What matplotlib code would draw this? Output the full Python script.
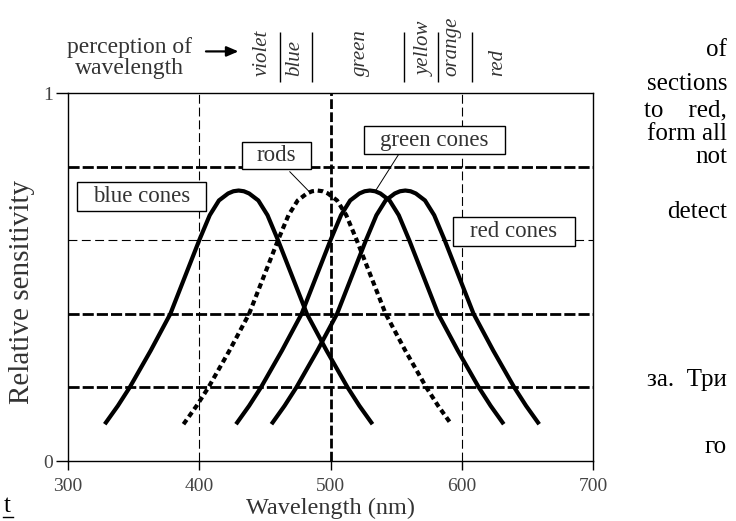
import matplotlib
matplotlib.use('Agg')
import matplotlib.pyplot as plt
from matplotlib.patches import Rectangle
from matplotlib.lines import Line2D

plt.rcParams['font.family'] = ['Liberation Serif', 'DejaVu Serif']

# ── data ──
blue_nm = [328, 338, 347, 363, 378, 389, 400, 408, 415, 422, 426, 430,
           434, 438, 445, 452, 460, 471, 482, 497, 513, 522, 532]
blue_s = [0.100, 0.150, 0.200, 0.300, 0.400, 0.500, 0.600, 0.668, 0.708, 0.727, 0.733, 0.735,
          0.733, 0.727, 0.708, 0.668, 0.600, 0.500, 0.400, 0.300, 0.200, 0.150, 0.100]

rods_nm = [388, 398, 407, 423, 438, 449, 460, 468, 475, 482, 486, 490,
           494, 498, 505, 512, 520, 531, 542, 557, 573, 582, 592]
rods_s = [0.100, 0.150, 0.200, 0.300, 0.400, 0.500, 0.600, 0.668, 0.708, 0.727, 0.733, 0.735,
          0.733, 0.727, 0.708, 0.668, 0.600, 0.500, 0.400, 0.300, 0.200, 0.150, 0.100]

green_nm = [428, 438, 447, 463, 478, 489, 500, 508, 515, 522, 526, 530,
            534, 538, 545, 552, 560, 571, 582, 597, 613, 622, 632]
green_s = [0.100, 0.150, 0.200, 0.300, 0.400, 0.500, 0.600, 0.668, 0.708, 0.727, 0.733, 0.735,
           0.733, 0.727, 0.708, 0.668, 0.600, 0.500, 0.400, 0.300, 0.200, 0.150, 0.100]

red_nm = [455, 465, 474, 490, 505, 516, 527, 535, 542, 549, 553, 557,
          561, 565, 572, 579, 587, 598, 609, 624, 640, 649, 659]
red_s = [0.100, 0.150, 0.200, 0.300, 0.400, 0.500, 0.600, 0.668, 0.708, 0.727, 0.733, 0.735,
         0.733, 0.727, 0.708, 0.668, 0.600, 0.500, 0.400, 0.300, 0.200, 0.150, 0.100]

x_ticks = [300, 400, 500, 600, 700]
grid_h_thick = [0.8, 0.4, 0.2]
grid_h_thin = [0.6]
grid_v_thick = [500]
grid_v_thin = [400, 600]

# perception strip above the plot
colour_words = ['violet', 'blue', 'green', 'yellow', 'orange', 'red']
colour_word_nm = [447.6, 473.0, 523.0, 572.0, 592.3, 627.6]
colour_bar_nm = [461.5, 485.7, 556.2, 582.1, 608.0]

# curve labels: text, box (x0, x1, y0, y1) in data units
labels = [
    ('blue cones', (306.9, 405.2, 0.679, 0.757)),
    ('rods', (432.6, 485.1, 0.793, 0.867)),
    ('green cones', (525.5, 632.9, 0.834, 0.910)),
    ('red cones', (593.3, 686.3, 0.584, 0.663)),
]
leaders = [((469.0, 0.786), (484.6, 0.729)),
           ((551.7, 0.832), (533.9, 0.732))]

# stray page text on the right (scan of a book page)
page_text = [('of', 50), ('sections', 84), ('to    red,', 110), ('form all', 134),
             ('not', 157), ('detect', 212), ('за.  Три', 380), ('го', 447)]

W, H = 736, 521
fig = plt.figure(figsize=(W / 100, H / 100), dpi=100)
ax = fig.add_axes([68 / W, 1 - 461 / H, 525 / W, 368 / H])
ax.set_xlim(300, 700)
ax.set_ylim(0, 1)

# grid-like reference lines
for y in grid_h_thick:
    ax.axhline(y, color='black', lw=2.0, ls=(0, (4, 1.1)), zorder=1)
for y in grid_h_thin:
    ax.axhline(y, color='black', lw=0.8, ls=(0, (8, 4)), zorder=1)
for x in grid_v_thick:
    ax.axvline(x, color='black', lw=2.0, ls=(0, (3.5, 1.2)), zorder=1)
for x in grid_v_thin:
    ax.axvline(x, color='black', lw=0.8, ls=(0, (8, 3.5)), zorder=1)

# sensitivity curves
for nm, s in [(blue_nm, blue_s), (green_nm, green_s), (red_nm, red_s)]:
    ax.plot(nm, s, color='black', lw=3.0, solid_capstyle='butt',
            solid_joinstyle='round', zorder=3)
ax.plot(rods_nm, rods_s, color='black', lw=3.0, ls=(0, (1.3, 0.9)), zorder=3)

# labels in boxes
for txt, (x0, x1, y0, y1) in labels:
    ax.add_patch(Rectangle((x0, y0), x1 - x0, y1 - y0, facecolor='white',
                           edgecolor='black', lw=1.0, zorder=4))
    ax.text((x0 + x1) / 2, (y0 + y1) / 2, txt, ha='center', va='center',
            fontsize=16.5, color='#333333', zorder=5)
for (x0, y0), (x1, y1) in leaders:
    ax.plot([x0, x1], [y0, y1], color='black', lw=0.7, zorder=4)

# axes styling
for sp in ax.spines.values():
    sp.set_linewidth(1.0)
ax.set_xticks(x_ticks)
ax.set_xticklabels([str(v) for v in x_ticks], color='#444444', fontsize=14)
ax.set_yticks([0, 1])
ax.set_yticklabels(['0', '1'], color='#444444', fontsize=14)
ax.tick_params(axis='x', length=6.5, width=1.0, pad=6)
ax.tick_params(axis='y', length=9, width=1.0, pad=2)
ax.set_xlabel('Wavelength (nm)', fontsize=17.5, color='#333333', labelpad=2)
ax.set_ylabel('Relative sensitivity', fontsize=21, color='#333333')
ax.yaxis.set_label_coords(-0.062, 0.459)

# perception of wavelength strip
ax.text(347, 1.124, 'perception of', ha='center', va='center', fontsize=17,
        color='#333333', clip_on=False)
ax.text(347, 1.067, 'wavelength', ha='center', va='center', fontsize=17,
        color='#333333', clip_on=False)
ax.annotate('', xy=(432, 1.113), xytext=(403, 1.113), annotation_clip=False,
            arrowprops=dict(arrowstyle='-|>,head_length=0.7,head_width=0.3',
                            lw=1.6, color='black'))
for w, x in zip(colour_words, colour_word_nm):
    ax.text(x, 1.046, w, rotation=90, ha='center', va='bottom', fontsize=15,
            style='italic', color='#333333', clip_on=False)
ax.vlines(colour_bar_nm, 1.031, 1.167, color='black', lw=1.0, clip_on=False)

for txt, ypx in page_text:
    fig.text(727 / W, 1 - ypx / H, txt, ha='right', va='center', fontsize=18,
             color='black')
fig.text(4 / W, 1 - 506 / H, 't', ha='left', va='center', fontsize=18, color='black')
fig.add_artist(Line2D([3 / W, 13 / W], [1 - 517 / H, 1 - 517 / H], color='black', lw=1.0))

fig.savefig('out.png', dpi=100)
